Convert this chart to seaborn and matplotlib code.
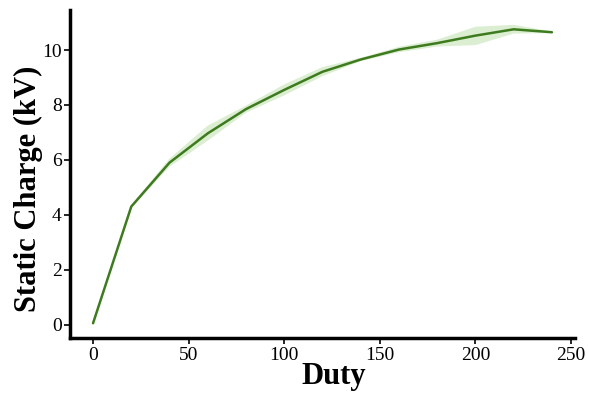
import numpy as np
import pandas as pd
import seaborn as sns
import matplotlib
matplotlib.use("Agg")
import matplotlib.pyplot as plt

duty = [0, 20, 40, 60, 80, 100, 120, 140, 160, 180, 200, 220, 240]
trial_a = [0.05, 4.25, 5.75, 6.70, 7.72, 8.35, 9.05, 9.60, 9.92, 10.13, 10.18, 10.60, 10.62]
trial_b = [0.05, 4.30, 5.90, 6.95, 7.85, 8.55, 9.20, 9.65, 10.02, 10.25, 10.55, 10.75, 10.65]
trial_c = [0.05, 4.35, 6.05, 7.25, 7.98, 8.75, 9.38, 9.72, 10.12, 10.38, 10.85, 10.92, 10.68]

df = pd.DataFrame({
    "Duty": duty * 3,
    "Static Charge (kV)": trial_a + trial_b + trial_c,
})

sns.set_style("ticks")
plt.rcParams["font.family"] = ["Liberation Serif", "DejaVu Serif"]
plt.rcParams["text.color"] = "black"
plt.rcParams["axes.labelcolor"] = "black"
plt.rcParams["xtick.color"] = "black"
plt.rcParams["ytick.color"] = "black"

fig = plt.figure(figsize=(5.89, 3.96), dpi=100)
ax = fig.add_axes([0.119, 0.146, 0.857, 0.829])
sns.lineplot(data=df, x="Duty", y="Static Charge (kV)", ax=ax,
             color="#3e7b1f", linewidth=1.8, errorbar=("pi", 100),
             err_kws={"alpha": 0.3})
for coll in ax.collections:
    coll.set_facecolor("#8cc86a")
    coll.set_edgecolor("none")
    coll.set_alpha(0.3)

ax.set_xlabel("Duty", fontsize=22, fontweight="bold", color="black")
ax.set_ylabel("Static Charge (kV)", fontsize=22, fontweight="bold", color="black")
ax.xaxis.set_label_coords(0.522, -0.073)
ax.yaxis.set_label_coords(-0.053, 0.454)
ax.set_xticks([0, 50, 100, 150, 200, 250])
ax.set_yticks([0, 2, 4, 6, 8, 10])
ax.tick_params(labelsize=14, length=4, width=1.2, color="black",
               labelcolor="black", pad=2)
for s in ["left", "bottom"]:
    ax.spines[s].set_linewidth(2.5)
    ax.spines[s].set_color("black")
sns.despine(ax=ax)

fig.savefig("out.png", dpi=100)
